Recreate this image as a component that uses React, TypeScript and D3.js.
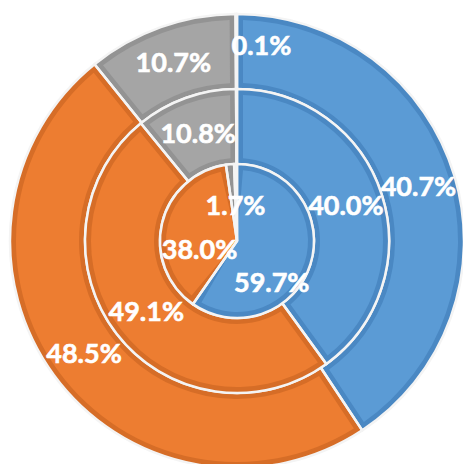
import React, { useEffect, useRef } from "react";
import * as d3 from "d3";

// series order around each ring, clockwise from 12 o'clock
const categories = ["A", "B", "C", "D"];
const colors = ["#5b9bd5", "#ed7d31", "#a5a5a5", "#f2f2f2"];
const edgeColors = ["#4a88c3", "#d66d27", "#939393", "#e6e6e6"];

const outerValues = [40.7, 48.5, 10.7, 0.1];
const middleValues = [40.0, 49.1, 10.8, 0.1];
const innerValues = [59.7, 38.0, 1.7, 0.6];

const outerShown = [true, true, true, true];
const middleShown = [true, true, true, false];
const innerShown = [true, true, true, false];

const W = 463;
const H = 464;

export default function App() {
  const ref = useRef<SVGSVGElement>(null);

  useEffect(() => {
    const svg = d3.select(ref.current);
    svg.selectAll("*").remove();

    const cx = 237, cy = 241;
    const g = svg.append("g").attr("transform", `translate(${cx},${cy})`);

    const rings = [
      { values: outerValues, shown: outerShown, r0: 152, r1: 227, nudge: [[0, 0], [0, 0], [0, 0], [25, -6]] },
      { values: middleValues, shown: middleShown, r0: 77, r1: 152, nudge: [[0, 0], [0, 0], [0, 0], [0, 0]] },
      { values: innerValues, shown: innerShown, r0: 0, r1: 77, nudge: [[-2, 30], [0, 17], [2, 3], [0, 0]] },
    ];

    const pie = d3.pie<number>().value(d => d).sort(null);
    const fmt = d3.format(".1f");

    rings.forEach((ring, ri) => {
      const arcs = pie(ring.values);
      const full = d3.arc<d3.PieArcDatum<number>>()
        .innerRadius(ring.r0)
        .outerRadius(ring.r1);
      const inset = d3.arc<d3.PieArcDatum<number>>()
        .innerRadius(ring.r0 === 0 ? 0 : ring.r0 + 6)
        .outerRadius(ring.r1 - 6)
        .padAngle(0.12)
        .padRadius(100);

      const rg = g.append("g").attr("class", "ring_" + ri);

      rg.selectAll(".edge").data(arcs).join("path")
        .attr("class", "edge")
        .attr("d", full)
        .style("fill", (d, i) => edgeColors[i]);

      rg.selectAll(".face").data(arcs).join("path")
        .attr("class", "face")
        .attr("d", inset)
        .style("fill", (d, i) => colors[i]);

      rg.selectAll(".sep").data(arcs).join("path")
        .attr("class", "sep")
        .attr("d", full)
        .style("fill", "none")
        .style("stroke", "#f4f4f4")
        .style("stroke-width", 2.5);
    });

    rings.forEach((ring, ri) => {
      const arcs = pie(ring.values);
      const lr = ring.r0 === 0 ? ring.r1 / 2 : (ring.r0 + ring.r1) / 2;
      const labelArc = d3.arc<d3.PieArcDatum<number>>().innerRadius(lr).outerRadius(lr);
      g.selectAll(".label_" + ri)
        .data(arcs.filter((d, i) => ring.shown[i]))
        .join("text")
        .attr("class", "label_" + ri)
        .attr("x", d => labelArc.centroid(d)[0] + ring.nudge[d.index][0])
        .attr("y", d => labelArc.centroid(d)[1] + ring.nudge[d.index][1])
        .attr("dy", "0.36em")
        .attr("text-anchor", "middle")
        .style("font-family", "Lato, 'Open Sans', sans-serif")
        .style("font-weight", "bold")
        .style("font-size", "27px")
        .style("fill", "#ffffff")
        .style("stroke", "#ffffff")
        .style("stroke-width", 0.6)
        .text(d => fmt(d.data) + "%");
    });
  }, []);

  return (
    <svg
      ref={ref}
      width={W}
      height={H}
      style={{ position: "absolute", left: 0, top: 0, background: "#ffffff" }}
    />
  );
}
